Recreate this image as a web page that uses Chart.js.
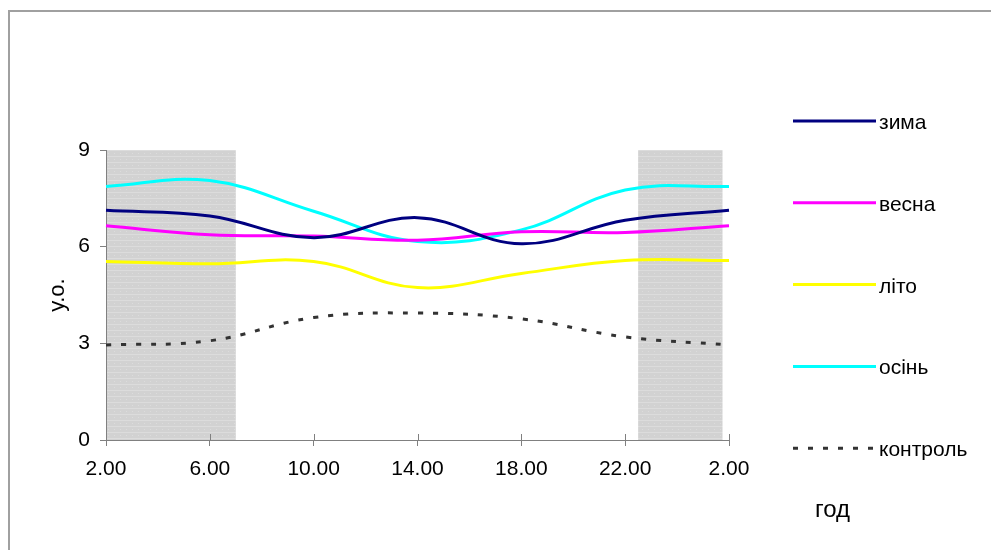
<!DOCTYPE html>
<html>
<head>
<meta charset="utf-8">
<script src="https://cdn.jsdelivr.net/npm/chart.js@4.4.0/dist/chart.umd.min.js"></script>
<style>
  body { margin: 0; background: #fff; }
  #wrap { width: 991px; height: 550px; }
</style>
</head>
<body>
<div id="wrap"><canvas id="dayChart"></canvas></div>
<script>
// time of day, every 4 hours
const hours = ['2.00', '6.00', '10.00', '14.00', '18.00', '22.00', '2.00'];
const zyma    = [7.13, 6.95, 6.28, 6.90, 6.09, 6.82, 7.13];
const vesna   = [6.65, 6.37, 6.33, 6.20, 6.46, 6.44, 6.65];
const lito    = [5.54, 5.47, 5.54, 4.73, 5.17, 5.57, 5.57];
const osin    = [7.87, 8.05, 7.10, 6.16, 6.52, 7.76, 7.87];
const kontrol = [2.95, 3.08, 3.80, 3.94, 3.76, 3.20, 2.95];
const yTicks = [0, 3, 6, 9];
// dark part of the day, in hours (2 = start of axis, 26 = next 2.00)
const darkHours = [[2, 7], [22.5, 25.75]];
const xTitle = 'год';
const yTitle = 'у.о.';

const FONT = '"Liberation Sans", Arial, sans-serif';

function bandPattern(ctx) {
    const c = document.createElement('canvas');
    c.width = 6; c.height = 6;
    const p = c.getContext('2d');
    p.fillStyle = '#d2d2d2';
    p.fillRect(0, 0, 6, 6);
    p.fillStyle = '#dcdcdc';
    p.fillRect(0, 0, 6, 1);
    p.fillRect(0, 3, 1, 1);
    return ctx.createPattern(c, 'repeat');
}

const nightBands = {
    id: 'nightBands',
    beforeDraw(chart) {
        const { ctx, chartArea: a, scales: { x } } = chart;
        ctx.save();
        ctx.fillStyle = bandPattern(ctx);
        darkHours.forEach(([from, to]) => {
            const x0 = x.getPixelForValue((from - 2) / 4);
            const x1 = x.getPixelForValue((to - 2) / 4);
            ctx.fillRect(x0, a.top, x1 - x0, a.bottom - a.top);
        });
        // frame around the chart
        ctx.strokeStyle = '#a0a0a0';
        ctx.lineWidth = 2;
        ctx.strokeRect(9, 11, 1200, 800);
        ctx.restore();
    },
    afterDraw(chart) {
        const { ctx, chartArea: a, scales: { x } } = chart;
        ctx.save();
        // x ticks cross the axis line
        ctx.strokeStyle = '#808080';
        ctx.lineWidth = 1;
        x.ticks.forEach((t, i) => {
            const px = Math.round(x.getPixelForTick(i)) + 0.5;
            ctx.beginPath();
            ctx.moveTo(px, a.bottom);
            ctx.lineTo(px, a.bottom - 6);
            ctx.stroke();
        });

        // legend on the right
        chart.data.datasets.forEach((ds, i) => {
            const y = 121 + i * 81.8;
            ctx.strokeStyle = ds.borderColor;
            ctx.lineWidth = 3;
            ctx.setLineDash(ds.borderDash || []);
            ctx.beginPath();
            ctx.moveTo(793, y);
            ctx.lineTo(876, y);
            ctx.stroke();
            ctx.setLineDash([]);
            ctx.fillStyle = '#000';
            ctx.font = '21px ' + FONT;
            ctx.textBaseline = 'alphabetic';
            ctx.fillText(ds.label, 879, y + 8);
        });

        // x axis title
        ctx.font = '24px ' + FONT;
        ctx.textBaseline = 'alphabetic';
        ctx.fillText(xTitle, 815, 517);
        ctx.restore();
    }
};

const lineStyle = { borderWidth: 3, pointRadius: 0, tension: 0.4, fill: false };

const ctx = document.getElementById('dayChart').getContext('2d');
window.myChart = new Chart(ctx, {
    type: 'line',
    data: {
        labels: hours,
        datasets: [
            { label: 'зима', data: zyma, borderColor: '#000080', ...lineStyle },
            { label: 'весна', data: vesna, borderColor: '#ff00ff', ...lineStyle },
            { label: 'літо', data: lito, borderColor: '#ffff00', ...lineStyle },
            { label: 'осінь', data: osin, borderColor: '#00ffff', ...lineStyle },
            { label: 'контроль', data: kontrol, borderColor: '#333333', borderDash: [5, 10], ...lineStyle }
        ]
    },
    options: {
        responsive: true,
        maintainAspectRatio: false,
        animation: false,
        layout: { padding: { left: 0, right: 262, top: 150, bottom: 0 } },
        plugins: {
            legend: { display: false },
            tooltip: { enabled: false }
        },
        scales: {
            x: {
                offset: false,
                afterFit: s => { s.height = 110; },
                grid: { display: true, drawOnChartArea: false, offset: false, tickLength: 6, color: '#808080' },
                border: { display: true, color: '#808080' },
                ticks: { color: '#000', padding: 11, maxRotation: 0, font: { size: 21, family: FONT } }
            },
            y: {
                min: 0,
                max: 9,
                afterFit: s => { s.width = 106; },
                afterBuildTicks: s => { s.ticks = yTicks.map(v => ({ value: v })); },
                grid: { display: true, drawOnChartArea: false, tickLength: 6, color: '#808080' },
                border: { display: true, color: '#808080' },
                ticks: { color: '#000', padding: 10, font: { size: 21, family: FONT } },
                title: { display: true, text: yTitle, color: '#000', padding: { top: 45 }, font: { size: 22, family: FONT } }
            }
        }
    },
    plugins: [nightBands]
});
</script>
</body>
</html>
